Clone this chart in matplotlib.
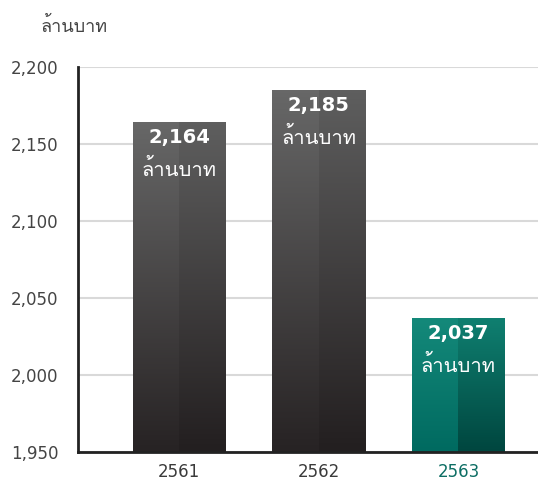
# Revenue bar chart (million baht), years in Buddhist era

import numpy as np
import matplotlib
matplotlib.use("Agg")
import matplotlib.pyplot as plt
from matplotlib import font_manager
from matplotlib.ft2font import FT2Font
from matplotlib.colors import LinearSegmentedColormap

years = ["2561", "2562", "2563"]
values = [2164, 2185, 2037]
value_labels = ["2,164", "2,185", "2,037"]
unit = "ล้านบาท"
yticks = [1950, 2000, 2050, 2100, 2150, 2200]
ytick_labels = ["1,950", "2,000", "2,050", "2,100", "2,150", "2,200"]

# look for an installed font with Thai glyphs; prefer one whose tone marks don't advance
thai_family = None
best = None
for path in sorted(font_manager.findSystemFonts()):
    try:
        f = FT2Font(path)
        if 0x0E25 not in f.get_charmap():
            continue
        g = f.load_char(0x0E49)
        score = 0 if g.linearHoriAdvance == 0 else 1
        if best is None or score < best[0]:
            best = (score, path)
    except Exception:
        pass
if best is not None:
    font_manager.fontManager.addfont(best[1])
    thai_family = font_manager.FontProperties(fname=best[1]).get_name()
families = ["DejaVu Sans"] if thai_family is None else [thai_family, "DejaVu Sans"]

fig = plt.figure(figsize=(5.38, 4.86), dpi=100)
ax = fig.add_axes([0.145, 0.07, 0.855, 0.792])

x = np.arange(len(years))
width = 0.667
bars = ax.bar(x, values, width=width, color="none", zorder=2)

grey = [("#676767", "#272324"), ("#5e5e5e", "#231f20")]
teal = [("#14897a", "#006a60"), ("#0f7f70", "#00463f")]
base = 1950
for i, rect in enumerate(bars):
    pal = teal if i == 2 else grey
    x0 = rect.get_x()
    w = rect.get_width()
    top = values[i]
    for half, (c_top, c_bot) in enumerate(pal):
        cmap = LinearSegmentedColormap.from_list("g", [c_bot, c_top])
        grad = np.linspace(0, 1, 100).reshape(-1, 1)
        ax.imshow(grad, cmap=cmap, vmin=0, vmax=1, aspect="auto", origin="lower",
                  extent=(x0 + half * w / 2, x0 + (half + 1) * w / 2, base, top),
                  zorder=2, interpolation="bilinear")
    ax.annotate(value_labels[i], (x[i], top), xytext=(0, -11), textcoords="offset points",
                ha="center", va="center", color="white", fontsize=14, fontweight="bold",
                family="DejaVu Sans", zorder=3)
    ax.annotate(unit, (x[i], top), xytext=(0, -34), textcoords="offset points",
                ha="center", va="center", color="white", fontsize=14.5, family=families, zorder=3)

ax.set_xlim(-0.724, 2.57)
ax.set_ylim(1950, 2200)
ax.set_yticks(yticks)
ax.set_yticklabels(ytick_labels, fontsize=12, color="#444444")
ax.set_xticks(x)
ax.set_xticklabels(years, fontsize=12, color="#3a3a3a")
ax.get_xticklabels()[2].set_color("#0d6e64")
ax.tick_params(axis="both", length=0)
ax.tick_params(axis="y", pad=14)
ax.tick_params(axis="x", pad=8)
ax.yaxis.grid(True, color="#d9d9d9", linewidth=1.5, zorder=0)
ax.set_axisbelow(True)
for s in ["top", "right"]:
    ax.spines[s].set_visible(False)
for s in ["left", "bottom"]:
    ax.spines[s].set_color("#222222")
    ax.spines[s].set_linewidth(2)

fig.text(0.075, 0.945, unit, fontsize=13, color="#444444", ha="left", va="center",
         family=families)

fig.savefig("out.png", dpi=100)
